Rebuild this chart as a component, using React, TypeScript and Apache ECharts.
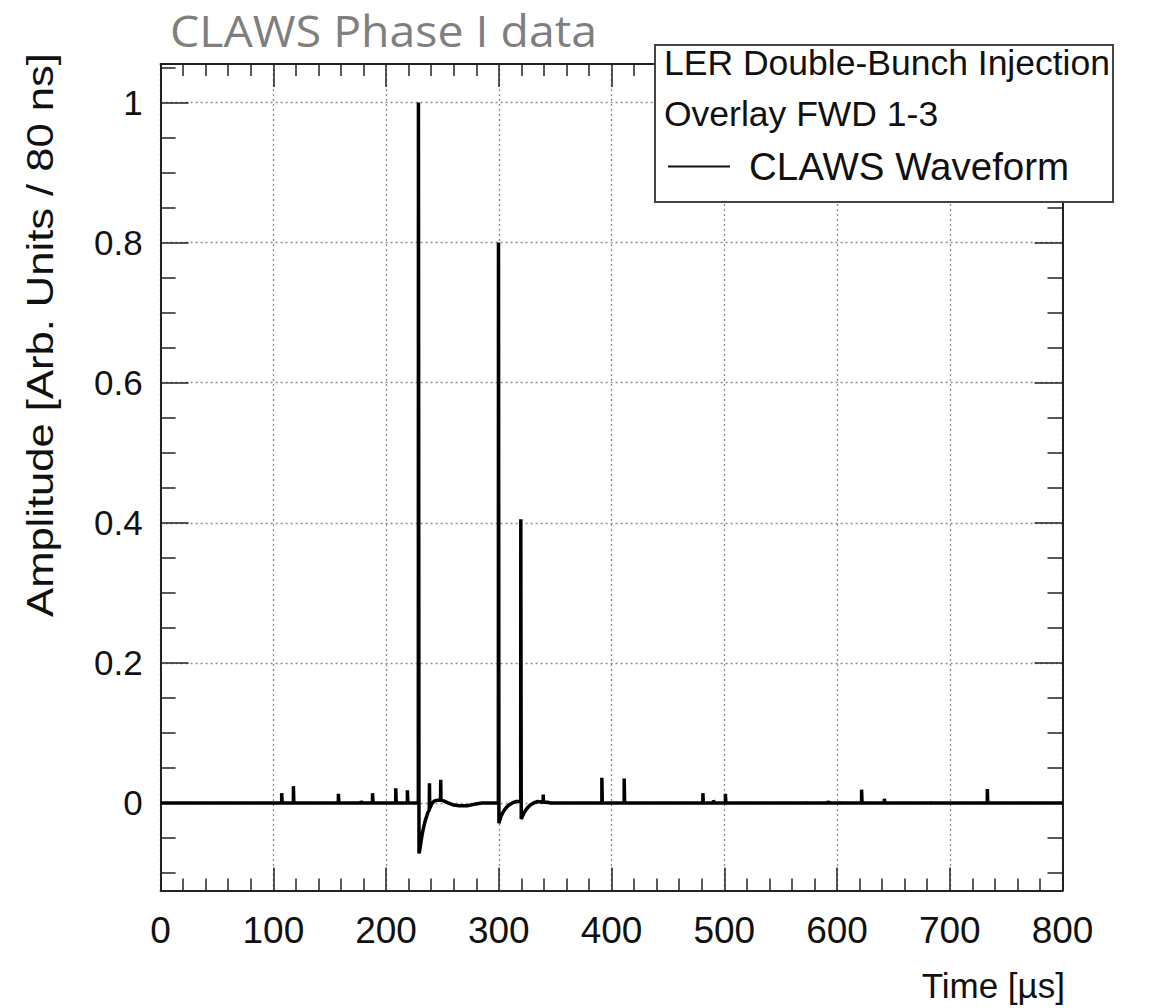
import React, { useEffect, useRef } from "react";
import * as echarts from "echarts";

// ---- data ----
const xRange = [0, 800];
const yRange = [-0.125, 1.055];
const xMajorStep = 100;
const yMajorTicks = [0, 0.2, 0.4, 0.6, 0.8, 1];
const yMinorTicks = [
  -0.1, -0.05, 0.05, 0.1, 0.15, 0.25, 0.3, 0.35, 0.45, 0.5, 0.55, 0.65, 0.7,
  0.75, 0.85, 0.9, 0.95, 1.05,
];

// small isolated pulses on the baseline: time [us], amplitude
const smallPulseT = [
  107.4, 117.8, 157.7, 178, 188, 208.6, 218.9, 391.4, 411.2, 481, 490.4, 501,
  572, 592, 601.6, 621.8, 642, 682.5, 733.3,
];
const smallPulseA = [
  0.014, 0.024, 0.013, 0.003, 0.014, 0.021, 0.018, 0.036, 0.035, 0.014, 0.004,
  0.013, 0.002, 0.003, 0.002, 0.019, 0.006, 0.002, 0.02,
];

// the double-bunch injection region, explicit points [time, amplitude]
const mainPulse: [number, number][] = [
  [228.6, 0], [228.7, 1.0], [229.2, -0.072], [230, -0.066], [231, -0.055],
  [232, -0.045], [233, -0.037], [234, -0.03], [235, -0.024], [236, -0.019],
  [237, -0.014], [238.3, -0.01], [238.5, 0.028], [238.7, -0.008],
  [239.5, -0.005], [241, 0.0], [243, 0.003], [246, 0.004], [248.3, 0.004],
  [248.5, 0.033], [248.7, 0.004], [251, 0.003], [255, 0.0], [260, -0.003],
  [265, -0.004], [272, -0.004], [278, -0.002], [285, 0], [299.6, 0],
  [299.7, 0.8], [300.1, -0.029], [301, -0.024], [302, -0.019],
  [303.5, -0.014], [305, -0.01], [307, -0.006], [309, -0.003], [312, 0.0],
  [315, 0.002], [319.4, 0.002], [319.5, 0.405], [319.9, -0.023],
  [321, -0.019], [322.5, -0.014], [324, -0.01], [326, -0.006], [328, -0.003],
  [331, 0.0], [334, 0.002], [339.3, 0.001], [339.4, 0.012], [339.6, 0.001],
  [343, 0.001], [346, 0],
];

const legendHeader = ["LER Double-Bunch Injection", "Overlay FWD 1-3"];
const seriesName = "CLAWS Waveform";

function buildWave(): [number, number][] {
  const segs: { t: number; pts: [number, number][] }[] = [];
  smallPulseT.forEach((t, i) => {
    segs.push({
      t,
      pts: [
        [t, 0],
        [t, smallPulseA[i]],
        [t + 0.4, smallPulseA[i]],
        [t + 0.4, 0],
      ],
    });
  });
  segs.push({ t: mainPulse[0][0], pts: mainPulse });
  segs.sort((a, b) => a.t - b.t);
  const out: [number, number][] = [[xRange[0], 0]];
  segs.forEach((s) => out.push(...s.pts));
  out.push([xRange[1], 0]);
  return out;
}

const FONT = "'Liberation Sans', Arial, Helvetica, sans-serif";

export default function App() {
  const ref = useRef<HTMLDivElement>(null);
  useEffect(() => {
    if (!ref.current) return;
    const chart = echarts.init(ref.current, undefined, { renderer: "svg" });
    const gridLine = { show: true, lineStyle: { color: "#8c8c8c", type: [2, 3], width: 1.3 } };
    const frame = { show: true, onZero: false, lineStyle: { color: "#222", width: 2 } };
    const noLine = { show: false, onZero: false };
    const tickStyle = { color: "#222", width: 1.5 };
    const yBase = {
      type: "value" as const,
      min: yRange[0],
      max: yRange[1],
      axisLabel: { show: false },
      splitLine: { show: false },
    };
    chart.setOption({
      animation: false,
      backgroundColor: "#ffffff",
      textStyle: { fontFamily: FONT },
      grid: { left: 160.6, right: 90.5, top: 64, bottom: 117.5, containLabel: false },
      xAxis: [
        {
          type: "value",
          position: "bottom",
          min: xRange[0],
          max: xRange[1],
          interval: xMajorStep,
          axisLine: frame,
          axisTick: { show: true, inside: true, length: 23, lineStyle: tickStyle },
          minorTick: { show: true, splitNumber: 5, length: 12, lineStyle: tickStyle },
          axisLabel: { show: true, color: "#111", fontSize: 37, fontFamily: FONT, margin: 21 },
          splitLine: gridLine,
        },
        {
          type: "value",
          position: "top",
          min: xRange[0],
          max: xRange[1],
          interval: xMajorStep,
          axisLine: frame,
          axisTick: { show: true, inside: true, length: 23, lineStyle: tickStyle },
          minorTick: { show: true, splitNumber: 5, length: 12, lineStyle: tickStyle },
          axisLabel: { show: false },
          splitLine: { show: false },
        },
      ],
      yAxis: [
        {
          ...yBase,
          position: "left",
          axisLine: frame,
          axisTick: { show: true, inside: true, length: 28, customValues: yMajorTicks, lineStyle: tickStyle },
          axisLabel: {
            show: true,
            customValues: yMajorTicks,
            color: "#111",
            fontSize: 35,
            fontFamily: FONT,
            margin: 18,
            formatter: (v: number) => String(Math.round(v * 10) / 10),
          },
          splitLine: gridLine,
        },
        {
          ...yBase,
          position: "left",
          axisLine: noLine,
          axisTick: { show: true, inside: true, length: 15, customValues: yMinorTicks, lineStyle: tickStyle },
        },
        {
          ...yBase,
          position: "right",
          axisLine: frame,
          axisTick: { show: true, inside: true, length: 28, customValues: yMajorTicks, lineStyle: tickStyle },
        },
        {
          ...yBase,
          position: "right",
          axisLine: noLine,
          axisTick: { show: true, inside: true, length: 15, customValues: yMinorTicks, lineStyle: tickStyle },
        },
      ],
      legend: {
        show: true,
        data: [{ name: seriesName, icon: "rect" }],
        left: 668,
        top: 147,
        padding: 0,
        itemWidth: 62,
        itemHeight: 2,
        z: 20,
        itemStyle: { color: "#111", borderWidth: 0 },
        textStyle: { fontSize: 38.5, color: "#111", fontFamily: FONT, padding: [0, 0, 0, 14] },
      },
      graphic: [
        {
          type: "text",
          x: 170,
          y: 30,
          scaleX: 1.055,
          z: 30,
          style: {
            text: "CLAWS Phase I data",
            fill: "#7f7f7f",
            font: "44px 'Open Sans', 'Liberation Sans', sans-serif",
            align: "left",
            verticalAlign: "middle",
          },
        },
        {
          type: "text",
          x: 40,
          y: 335,
          rotation: Math.PI / 2,
          scaleX: 1.21,
          z: 30,
          style: {
            text: "Amplitude [Arb. Units / 80 ns]",
            fill: "#111",
            font: "36px 'Liberation Sans', Arial, sans-serif",
            align: "center",
            verticalAlign: "middle",
          },
        },
        {
          type: "text",
          x: 1065,
          y: 985,
          z: 30,
          style: {
            text: "Time [\u00b5s]",
            fill: "#111",
            font: "35px 'Liberation Sans', Arial, sans-serif",
            align: "right",
            verticalAlign: "middle",
          },
        },
        {
          type: "rect",
          z: 15,
          shape: { x: 655, y: 45, width: 458, height: 157 },
          style: { fill: "#ffffff", stroke: "#444", lineWidth: 2 },
        },
        {
          type: "text",
          x: 664,
          y: 63,
          z: 30,
          style: {
            text: legendHeader[0],
            fill: "#111",
            font: "35.5px 'Liberation Sans', Arial, sans-serif",
            align: "left",
            verticalAlign: "middle",
          },
        },
        {
          type: "text",
          x: 664,
          y: 114,
          z: 30,
          style: {
            text: legendHeader[1],
            fill: "#111",
            font: "35.5px 'Liberation Sans', Arial, sans-serif",
            align: "left",
            verticalAlign: "middle",
          },
        },
      ],
      series: [
        {
          name: seriesName,
          type: "line",
          xAxisIndex: 0,
          yAxisIndex: 0,
          data: buildWave(),
          symbol: "none",
          showSymbol: false,
          clip: true,
          lineStyle: { color: "#000", width: 3.5, join: "bevel" },
          itemStyle: { color: "#000" },
          z: 5,
        },
      ],
    });
    return () => chart.dispose();
  }, []);
  return (
    <div
      ref={ref}
      style={{ position: "fixed", left: 0, top: 0, width: 1153, height: 1008, background: "#fff" }}
    />
  );
}
